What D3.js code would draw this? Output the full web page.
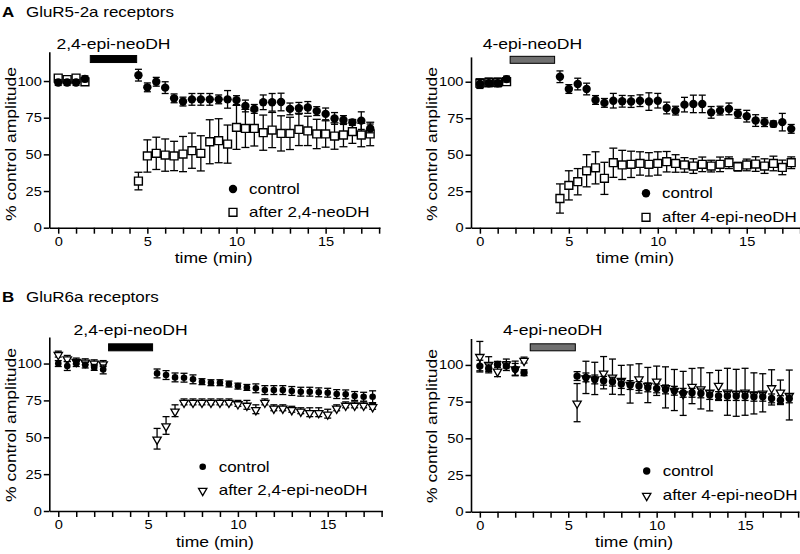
<!DOCTYPE html>
<html><head><meta charset="utf-8">
<script src="https://cdn.jsdelivr.net/npm/d3@7"></script>
<style>body{margin:0;background:#fff}svg{display:block}text{font-family:"Liberation Sans",Arial,sans-serif;fill:#000}</style>
</head><body>
<script>
// ---------- DATA ----------
const xTicks = [0,1,2,3,4,5,6,7,8,9,10,11,12,13,14,15,16,17,18];
const xTickLabels = [0,5,10,15];
const yTicks = [0,25,50,75,100];

const timeA_pre = [0,0.5,1,1.5];
const timeA_post = [4.5,5,5.5,6,6.5,7,7.5,8,8.5,9,9.5,10,10.5,11,11.5,12,12.5,13,13.5,14,14.5,15,15.5,16,16.5,17,17.5];
const timeB_pre = [0,0.5,1,1.5,2,2.5];
const timeB_post = [5.5,6,6.5,7,7.5,8,8.5,9,9.5,10,10.5,11,11.5,12,12.5,13,13.5,14,14.5,15,15.5,16,16.5,17,17.5];

// A left: GluR5-2a, 2,4-epi-neoDH
const A1_control_pre = [99,99,99,101.5];
const A1_control_pre_err = [2,2,2,2];
const A1_control_post = [104,95.7,99.5,95.5,88.2,86,87.5,87.5,87.5,87.5,87.5,87,83,81,85.5,85.5,85.7,81,81.4,82,79.5,77.6,74.5,73.4,71.8,73,67.7];
const A1_control_post_err = [4,3,3,4,3,3,4,4,4,3,6,3,4,3,5,6,6,4,4,4,3,4,4,3,2,6,3];
const A1_drug_pre = [102,101,102,99.5];
const A1_drug_pre_err = [2,2,2,2];
const A1_drug_post = [31.8,48.9,50.7,49.5,48.9,50.2,52.5,50.7,58.6,59.3,57,68.4,67.7,67.7,64.8,66.6,64.3,64.3,67,66,63.9,63.9,62.5,63.2,65.5,63.2,63.9];
const A1_drug_post_err = [6,11,11,11,10,12,12,12,15,15,13,15,13,12,12,12,12,11,11,10,10,9,9,8,8,8,8];

// A right: GluR5-2a, 4-epi-neoDH
const A2_control_pre = [98.4,99,99,101.8];
const A2_control_pre_err = [3,2,2,2];
const A2_control_post = [103.4,95,98.4,95,87.5,85.5,87,86.6,86.4,87,86.4,87,82,80.2,84.3,84.8,84.8,79,80.2,81.4,78,76.4,73.4,72.3,71.1,72.3,67.7];
const A2_control_post_err = [4,3,4,4,3,3,5,4,4,4,6,5,4,3,5,6,6,4,3,4,3,4,4,3,2,6,3];
const A2_drug_pre = [99,99.5,99.5,100];
const A2_drug_pre_err = [3,3,3,2];
const A2_drug_post = [20,29,31.5,39,41,33.8,44.5,43,43.4,44,43.4,44,45.2,44,43,42.2,43.4,42.2,43.4,44.5,41.8,43,43.6,42.2,44,41.3,44.5];
const A2_drug_post_err = [10,10,9,11,11,11,10,10,9,8,8,8,7,6,5,5,5,4,5,4,3,4,5,5,5,5,4];

// B left: GluR6a, 2,4-epi-neoDH
const B1_control_pre = [100,98.3,100,99,97.4,96];
const B1_control_pre_err = [2,3,2,2,2,3];
const B1_control_post = [93.3,92.2,90.6,90.4,89.3,87.7,87,87,86.1,84.7,83.8,83.2,82,82,82,81.4,80.9,80.9,80.5,80.2,79.3,79.1,78,77.5,77.5];
const B1_control_post_err = [3,3,3,3,3,2,2,2,2,2,2,3,3,3,3,3,3,3,3,3,3,3,3,3,4];
const B1_drug_pre = [106.4,103.5,101.7,101.2,100.5,100];
const B1_drug_pre_err = [2,2,2,2,2,2];
const B1_drug_post = [49,58,68,74,74,74,74,74,74,73,72,69,74,70,70,69,68,67,67,66,70,72,72,72,71];
const B1_drug_post_err = [7,6,4,2,2,2,2,2,2,2,3,3,2,2,2,2,2,3,3,3,2,2,2,2,2];

// B right: GluR6a, 4-epi-neoDH
const B2_control_pre = [99.2,97.6,100.4,99.2,97,94.7];
const B2_control_pre_err = [4,3,2,3,4,2];
const B2_control_post = [92.4,91.5,90.1,89.2,88.6,87,86.3,85.6,84.7,84,83.3,82.4,81,81,80.6,79.5,78.8,78.8,78.8,78.8,78.3,78.3,77.2,76,77.2];
const B2_control_post_err = [3,3,3,3,3,3,3,3,3,3,3,3,3,3,3,3,3,3,3,3,3,3,3,3,3];
const B2_drug_pre = [106,100.6,96,101,97.6,103.3];
const B2_drug_pre_err = [10,5,4,3,5,2];
const B2_drug_post = [74.3,91.5,90.8,94.7,92,89.7,87,90.8,86.3,89.2,84.7,82.9,80.6,85.6,84,81.7,86.3,81.7,81,81.7,80.6,81,84.7,81.7,79.5];
const B2_drug_post_err = [13,11,11,11,12,10,13,10,12,10,14,14,15,12,14,13,10,16,16,16,14,13,12,8,17];

// drug application bars [start, end] (min) and level (%)
const A1_bar = [1.8,4.4], A2_bar = [1.7,4.2], B1_bar = [2.8,5.25], B2_bar = [2.85,5.4];
const barLevel = [115,115,111,112];

const titles = [["A","GluR5-2a receptors"],["B","GluR6a receptors"]];
const drugLabels = ["2,4-epi-neoDH","4-epi-neoDH","2,4-epi-neoDH","4-epi-neoDH"];
const legendControl = "control";
const legendDrug = ["after 2,4-neoDH","after 4-epi-neoDH","after 2,4-epi-neoDH","after 4-epi-neoDH"];
const xTitle = "time (min)";
const yTitle = "% control amplitude";

// ---------- DRAW ----------
const SX = 1.17; // horizontal stretch of the source typography
const svg = d3.select("body").append("svg").attr("width",800).attr("height",554);

function txt(g, x, y, s, size, anchor, weight){
  return g.append("text").attr("transform",`translate(${x},${y}) scale(${SX},1)`)
    .attr("text-anchor",anchor||"start").style("font-size",size+"px")
    .style("font-weight",weight||"normal").text(s);
}

const zip = (t,v,e)=>t.map((d,i)=>({t:d,v:v[i],e:e[i]}));

const panels = [
  {xr:[49.3,380], yr:[227.7,51.7], yd:[0,120], bar:A1_bar, lvl:barLevel[0], barFill:"#000", lblOff:7,
   drugShape:"square", r:4.2, drug:[zip(timeA_pre,A1_drug_pre,A1_drug_pre_err),zip(timeA_post,A1_drug_post,A1_drug_post_err)],
   ctrl:[zip(timeA_pre,A1_control_pre,A1_control_pre_err),zip(timeA_post,A1_control_post,A1_control_post_err)],
   drugLabel:drugLabels[0], leg:{x:233,y:189,dy:23.3}, legText:legendDrug[0], yLabX:11, yLabY:144},
  {xr:[471,801], yr:[227.7,56.9], yd:[0,117], bar:A2_bar, lvl:barLevel[1], barFill:"#707070", lblOff:7,
   drugShape:"square", r:4.2, drug:[zip(timeA_pre,A2_drug_pre,A2_drug_pre_err),zip(timeA_post,A2_drug_post,A2_drug_post_err)],
   ctrl:[zip(timeA_pre,A2_control_pre,A2_control_pre_err),zip(timeA_post,A2_control_post,A2_control_post_err)],
   drugLabel:drugLabels[1], leg:{x:646,y:193.3,dy:24}, legText:legendDrug[1], yLabX:432, yLabY:144},
  {xr:[49.3,382.5], yr:[511,337], yd:[0,118], bar:B1_bar, lvl:barLevel[2], barFill:"#000", lblOff:9,
   drugShape:"tri", r:3.3, drug:[zip(timeB_pre,B1_drug_pre,B1_drug_pre_err),zip(timeB_post,B1_drug_post,B1_drug_post_err)],
   ctrl:[zip(timeB_pre,B1_control_pre,B1_control_pre_err),zip(timeB_post,B1_control_post,B1_control_post_err)],
   drugLabel:drugLabels[2], leg:{x:202.7,y:466.7,dy:23.3}, legText:legendDrug[2], yLabX:11, yLabY:425},
  {xr:[471,799], yr:[511.7,338.5], yd:[0,118], bar:B2_bar, lvl:barLevel[3], barFill:"#707070", lblOff:9,
   drugShape:"tri", r:3.7, drug:[zip(timeB_pre,B2_drug_pre,B2_drug_pre_err),zip(timeB_post,B2_drug_post,B2_drug_post_err)],
   ctrl:[zip(timeB_pre,B2_control_pre,B2_control_pre_err),zip(timeB_post,B2_control_post,B2_control_post_err)],
   drugLabel:drugLabels[3], leg:{x:646.7,y:471,dy:24}, legText:legendDrug[3], yLabX:432, yLabY:426}
];

const sqSym = d3.symbol(d3.symbolSquare).size(62);
const triSym = d3.symbol(d3.symbolTriangle).size(30);

function drawMarker(g, shape, x, y, r){
  if(shape==="circle") return g.append("circle").attr("cx",x).attr("cy",y).attr("r",r).attr("fill","#000");
  if(shape==="square") return g.append("path").attr("d",sqSym()).attr("transform",`translate(${x},${y})`)
      .attr("fill","#fff").attr("stroke","#000").attr("stroke-width",1.4);
  return g.append("path").attr("d",triSym()).attr("transform",`translate(${x},${y+0.8}) rotate(180)`)
      .attr("fill","#fff").attr("stroke","#000").attr("stroke-width",1.3);
}

function drawSeries(g, pts, x, y, shape, r, cap){
  const eb = g.append("g").attr("stroke","#000").attr("stroke-width",1.3);
  pts.forEach(p=>{
    const cx=x(p.t), y1=y(p.v-p.e), y2=y(p.v+p.e);
    eb.append("line").attr("x1",cx).attr("x2",cx).attr("y1",y1).attr("y2",y2);
    eb.append("line").attr("x1",cx-cap).attr("x2",cx+cap).attr("y1",y1).attr("y2",y1);
    eb.append("line").attr("x1",cx-cap).attr("x2",cx+cap).attr("y1",y2).attr("y2",y2);
  });
  pts.forEach(p=>drawMarker(g, shape, x(p.t), y(p.v), r));
}

panels.forEach(P=>{
  const g = svg.append("g");
  const x = d3.scaleLinear().domain([-0.5,18.05]).range(P.xr);
  const y = d3.scaleLinear().domain(P.yd).range(P.yr);
  const y0 = P.yr[0], x0 = P.xr[0];

  // axes
  const xa = g.append("g").attr("transform",`translate(0,${y0})`)
    .call(d3.axisBottom(x).tickValues(xTicks).tickSize(6).tickSizeOuter(0)
      .tickFormat(d=>xTickLabels.includes(d)?d:""));
  const ya = g.append("g").attr("transform",`translate(${x0},0)`)
    .call(d3.axisLeft(y).tickValues(yTicks).tickSize(5.5).tickSizeOuter(0));
  [xa,ya].forEach(a=>{
    a.select(".domain").attr("stroke","#000").attr("stroke-width",1.6);
    a.selectAll(".tick line").attr("stroke","#000").attr("stroke-width",1.5);
    a.selectAll("text").style("font-size","12.5px").style("font-family","Liberation Sans, Arial, sans-serif");
  });
  xa.selectAll("text").attr("transform",`scale(${SX},1)`).attr("y",9.5);
  ya.selectAll("text").attr("transform",`scale(${SX},1)`).attr("x",-7.5/SX);

  // drug application bar + label
  const bx1=x(P.bar[0]), bx2=x(P.bar[1]), by=y(P.lvl);
  g.append("rect").attr("x",bx1).attr("y",by-3.5).attr("width",bx2-bx1).attr("height",7)
    .attr("fill",P.barFill).attr("stroke","#000").attr("stroke-width",1);
  txt(g,(bx1+bx2)/2, by-3.5-P.lblOff, P.drugLabel, 15, "middle");

  // data
  const capA = P.drugShape==="square"?4:3.5;
  P.drug.forEach(s=>drawSeries(g,s,x,y,P.drugShape,P.r,capA));
  P.ctrl.forEach(s=>drawSeries(g,s,x,y,"circle",P.r,3.5));

  // axis titles
  txt(g,(P.xr[0]+P.xr[1])/2 - 1, y0+35.5, xTitle, 15, "middle");
  g.append("text").attr("transform",`translate(${P.yLabX+5},${P.yLabY}) rotate(-90) scale(${SX},1)`)
    .attr("text-anchor","middle").style("font-size","15px").text(yTitle);

  // legend
  drawMarker(g,"circle",P.leg.x,P.leg.y,P.r);
  txt(g,P.leg.x+16,P.leg.y+5,legendControl,14.5,"start");
  drawMarker(g,P.drugShape,P.leg.x,P.leg.y+P.leg.dy,P.r);
  txt(g,P.leg.x+16,P.leg.y+P.leg.dy+5,P.legText,14.5,"start");
});

// panel titles
txt(svg,2,17,titles[0][0],14.5,"start","bold");
txt(svg,26,17,titles[0][1],14.5,"start");
txt(svg,2,302,titles[1][0],14.5,"start","bold");
txt(svg,26,302,titles[1][1],14.5,"start");
</script>
</body></html>
